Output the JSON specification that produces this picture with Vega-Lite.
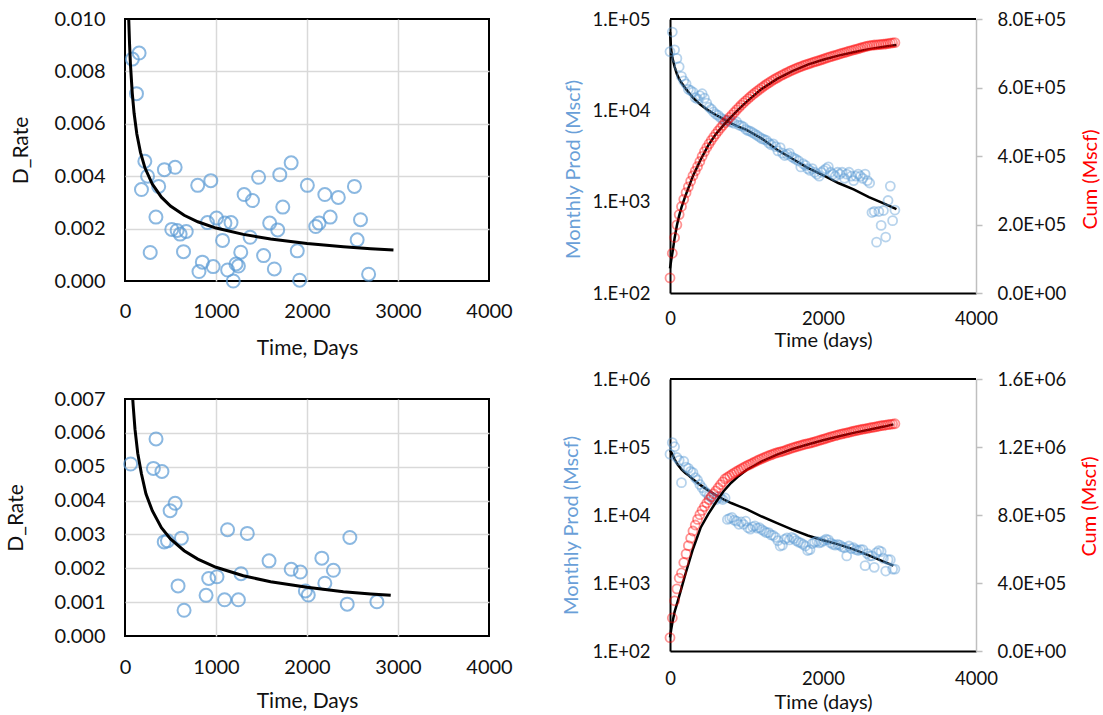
{
"$schema": "https://vega.github.io/schema/vega-lite/v6.json",
"background": "white",
"padding": {"left": 4, "top": 8, "right": 0, "bottom": 0},
"bounds": "flush",
"spacing": 545,
"config": {"font": "Lato", "view": {"stroke": null}, "axis": {"labelFont": "Lato", "titleFont": "Lato", "labelColor": "#111111", "titleColor": "#111111", "titleFontWeight": "normal", "labelFlush": false, "labelOverlap": false, "tickCount": 20}},
"datasets": {
"tl": [{"t":81,"d":0.00847},{"t":155,"d":0.0087},{"t":126,"d":0.00715},{"t":218,"d":0.00457},{"t":248,"d":0.004},{"t":181,"d":0.00349},{"t":277,"d":0.00109},{"t":340,"d":0.00244},{"t":370,"d":0.00361},{"t":433,"d":0.00425},{"t":551,"d":0.00434},{"t":514,"d":0.00197},{"t":573,"d":0.00193},{"t":606,"d":0.00179},{"t":673,"d":0.00189},{"t":643,"d":0.00112},{"t":799,"d":0.00365},{"t":943,"d":0.00383},{"t":906,"d":0.00223},{"t":1006,"d":0.0024},{"t":1098,"d":0.00221},{"t":1165,"d":0.00223},{"t":1072,"d":0.00155},{"t":813,"d":0.00036},{"t":850,"d":0.00072},{"t":969,"d":0.00055},{"t":1128,"d":0.00042},{"t":1190,"d":0.0},{"t":1220,"d":0.00065},{"t":1246,"d":0.00057},{"t":1272,"d":0.0011},{"t":1309,"d":0.0033},{"t":1401,"d":0.00307},{"t":1375,"d":0.00167},{"t":1468,"d":0.00396},{"t":1523,"d":0.00097},{"t":1590,"d":0.00221},{"t":1678,"d":0.00195},{"t":1701,"d":0.00406},{"t":1734,"d":0.00282},{"t":1641,"d":0.00046},{"t":1826,"d":0.00451},{"t":1893,"d":0.00115},{"t":1919,"d":0.00003},{"t":2004,"d":0.00365},{"t":2096,"d":0.00208},{"t":2133,"d":0.00221},{"t":2196,"d":0.0033},{"t":2255,"d":0.00244},{"t":2344,"d":0.00319},{"t":2521,"d":0.00361},{"t":2588,"d":0.00234},{"t":2551,"d":0.00157},{"t":2677,"d":0.00026}],
"tlf": [{"t":40,"d":0.0101},{"t":50,"d":0.00905},{"t":60,"d":0.00826},{"t":80,"d":0.00716},{"t":100,"d":0.0064},{"t":130,"d":0.00561},{"t":170,"d":0.00491},{"t":220,"d":0.00431},{"t":300,"d":0.0037},{"t":400,"d":0.0032},{"t":500,"d":0.00286},{"t":650,"d":0.00251},{"t":800,"d":0.00226},{"t":1000,"d":0.00202},{"t":1300,"d":0.00178},{"t":1600,"d":0.0016},{"t":2000,"d":0.00143},{"t":2400,"d":0.00131},{"t":2700,"d":0.00123},{"t":2950,"d":0.00118}],
"bl": [{"t":62,"d":0.00508},{"t":341,"d":0.00582},{"t":312,"d":0.00495},{"t":406,"d":0.00486},{"t":551,"d":0.00392},{"t":496,"d":0.0037},{"t":431,"d":0.00278},{"t":467,"d":0.00281},{"t":620,"d":0.00289},{"t":583,"d":0.00148},{"t":649,"d":0.00076},{"t":891,"d":0.0012},{"t":920,"d":0.0017},{"t":1011,"d":0.00175},{"t":1094,"d":0.00107},{"t":1127,"d":0.00314},{"t":1246,"d":0.00107},{"t":1275,"d":0.00184},{"t":1344,"d":0.00303},{"t":1583,"d":0.00222},{"t":1826,"d":0.00197},{"t":1927,"d":0.00189},{"t":1982,"d":0.00133},{"t":2014,"d":0.00121},{"t":2163,"d":0.0023},{"t":2196,"d":0.00156},{"t":2290,"d":0.00194},{"t":2471,"d":0.00291},{"t":2442,"d":0.00094},{"t":2768,"d":0.00101}],
"blf": [{"t":80,"d":0.0072},{"t":90,"d":0.0068},{"t":110,"d":0.0061},{"t":140,"d":0.0054},{"t":180,"d":0.0048},{"t":230,"d":0.0042},{"t":300,"d":0.0037},{"t":400,"d":0.0032},{"t":500,"d":0.00287},{"t":650,"d":0.00252},{"t":800,"d":0.00227},{"t":1000,"d":0.00203},{"t":1300,"d":0.00178},{"t":1600,"d":0.0016},{"t":2000,"d":0.00144},{"t":2400,"d":0.00131},{"t":2700,"d":0.00124},{"t":2920,"d":0.0012}],
"tr": [{"t":0,"q":44000,"c":44000},{"t":30,"q":72000,"c":116000},{"t":60,"q":46000,"c":162000},{"t":90,"q":37000,"c":199000},{"t":120,"q":30000,"c":229000},{"t":150,"q":23500,"c":252500},{"t":180,"q":21000,"c":273500},{"t":210,"q":19500,"c":293000},{"t":240,"q":17000,"c":310000},{"t":270,"q":16500,"c":326500},{"t":300,"q":15800,"c":342300},{"t":330,"q":13800,"c":356100},{"t":360,"q":13300,"c":369400},{"t":390,"q":14500,"c":383900},{"t":420,"q":15200,"c":399100},{"t":450,"q":13600,"c":412700},{"t":480,"q":12000,"c":424700},{"t":510,"q":10800,"c":435500},{"t":540,"q":10300,"c":445800},{"t":570,"q":9600,"c":455400},{"t":600,"q":9100,"c":464500},{"t":630,"q":8800,"c":473300},{"t":660,"q":8300,"c":481600},{"t":690,"q":8000,"c":489600},{"t":720,"q":7800,"c":497400},{"t":750,"q":7700,"c":505100},{"t":780,"q":7500,"c":512600},{"t":810,"q":7400,"c":520000},{"t":840,"q":7200,"c":527200},{"t":870,"q":7500,"c":534700},{"t":900,"q":6900,"c":541600},{"t":930,"q":6800,"c":548400},{"t":960,"q":6600,"c":555000},{"t":990,"q":6200,"c":561200},{"t":1020,"q":6000,"c":567200},{"t":1050,"q":5900,"c":573100},{"t":1080,"q":5700,"c":578800},{"t":1110,"q":5500,"c":584300},{"t":1140,"q":5300,"c":589600},{"t":1170,"q":5100,"c":594700},{"t":1200,"q":4900,"c":599600},{"t":1230,"q":4800,"c":604400},{"t":1260,"q":4700,"c":609100},{"t":1290,"q":4400,"c":613500},{"t":1320,"q":4200,"c":617700},{"t":1350,"q":4300,"c":622000},{"t":1380,"q":4000,"c":626000},{"t":1410,"q":3600,"c":629600},{"t":1440,"q":3900,"c":633500},{"t":1470,"q":3400,"c":636900},{"t":1500,"q":3200,"c":640100},{"t":1530,"q":3300,"c":643400},{"t":1560,"q":3400,"c":646800},{"t":1590,"q":3100,"c":649900},{"t":1620,"q":3000,"c":652900},{"t":1650,"q":2900,"c":655800},{"t":1680,"q":2800,"c":658600},{"t":1710,"q":2400,"c":661000},{"t":1740,"q":2600,"c":663600},{"t":1770,"q":2500,"c":666100},{"t":1800,"q":2300,"c":668400},{"t":1830,"q":2200,"c":670600},{"t":1860,"q":2300,"c":672900},{"t":1890,"q":2100,"c":675000},{"t":1920,"q":2000,"c":677000},{"t":1950,"q":1900,"c":678900},{"t":1980,"q":2100,"c":681000},{"t":2010,"q":2200,"c":683200},{"t":2040,"q":2300,"c":685500},{"t":2070,"q":2400,"c":687900},{"t":2100,"q":2100,"c":690000},{"t":2130,"q":2000,"c":692000},{"t":2160,"q":1900,"c":693900},{"t":2190,"q":2100,"c":696000},{"t":2220,"q":2000,"c":698000},{"t":2250,"q":2100,"c":700100},{"t":2280,"q":1800,"c":701900},{"t":2310,"q":2000,"c":703900},{"t":2340,"q":2100,"c":706000},{"t":2370,"q":1900,"c":707900},{"t":2400,"q":1700,"c":709600},{"t":2430,"q":1900,"c":711500},{"t":2460,"q":2000,"c":713500},{"t":2490,"q":1900,"c":715400},{"t":2520,"q":1800,"c":717200},{"t":2550,"q":2000,"c":719200},{"t":2580,"q":1700,"c":720900},{"t":2610,"q":1600,"c":722500},{"t":2640,"q":760,"c":723260},{"t":2670,"q":780,"c":724040},{"t":2700,"q":360,"c":724400},{"t":2730,"q":780,"c":725180},{"t":2760,"q":550,"c":725730},{"t":2790,"q":800,"c":726530},{"t":2820,"q":410,"c":726940},{"t":2850,"q":1030,"c":727970},{"t":2880,"q":1480,"c":729450},{"t":2910,"q":620,"c":730070},{"t":2940,"q":810,"c":730880}],
"trf": [{"t":0,"q":72000,"c":72000},{"t":15,"q":46000,"c":95000},{"t":30,"q":38000,"c":115000},{"t":60,"q":30000,"c":160000},{"t":90,"q":25000,"c":197000},{"t":120,"q":22000,"c":226000},{"t":150,"q":20000,"c":250000},{"t":200,"q":17500,"c":283000},{"t":250,"q":15500,"c":312000},{"t":300,"q":13800,"c":342000},{"t":400,"q":11500,"c":389000},{"t":500,"q":10000,"c":431000},{"t":600,"q":8900,"c":464000},{"t":700,"q":8000,"c":490000},{"t":800,"q":7200,"c":514000},{"t":900,"q":6600,"c":537000},{"t":1000,"q":6100,"c":558000},{"t":1200,"q":4900,"c":596000},{"t":1400,"q":3700,"c":625000},{"t":1600,"q":2950,"c":648000},{"t":1800,"q":2350,"c":667000},{"t":2000,"q":1950,"c":681000},{"t":2200,"q":1600,"c":693000},{"t":2400,"q":1360,"c":703000},{"t":2600,"q":1120,"c":712000},{"t":2800,"q":950,"c":719000},{"t":2960,"q":830,"c":724000}],
"br": [{"t":0,"q":78500,"c":78500},{"t":30,"q":115900,"c":194400},{"t":60,"q":101000,"c":295400},{"t":90,"q":70100,"c":365500},{"t":120,"q":63600,"c":429100},{"t":150,"q":29900,"c":459000},{"t":180,"q":61700,"c":520700},{"t":210,"q":50500,"c":571200},{"t":240,"q":48600,"c":619800},{"t":270,"q":43900,"c":663700},{"t":300,"q":42100,"c":705800},{"t":330,"q":35500,"c":741300},{"t":360,"q":32700,"c":774000},{"t":390,"q":28100,"c":802100},{"t":420,"q":25200,"c":827300},{"t":450,"q":22400,"c":849700},{"t":480,"q":21000,"c":870700},{"t":510,"q":19200,"c":889900},{"t":540,"q":18200,"c":908100},{"t":570,"q":17000,"c":925100},{"t":600,"q":16800,"c":941900},{"t":630,"q":18400,"c":960300},{"t":660,"q":17800,"c":978100},{"t":690,"q":16900,"c":995000},{"t":720,"q":17800,"c":1012800},{"t":750,"q":8600,"c":1021400},{"t":780,"q":8900,"c":1030300},{"t":810,"q":9200,"c":1039500},{"t":840,"q":8400,"c":1047900},{"t":870,"q":8100,"c":1056000},{"t":900,"q":7300,"c":1063300},{"t":930,"q":7900,"c":1071200},{"t":960,"q":7300,"c":1078500},{"t":990,"q":8100,"c":1086600},{"t":1020,"q":6500,"c":1093100},{"t":1050,"q":6200,"c":1099300},{"t":1080,"q":6700,"c":1106000},{"t":1110,"q":6900,"c":1112900},{"t":1140,"q":6400,"c":1119300},{"t":1170,"q":6500,"c":1125800},{"t":1200,"q":6100,"c":1131900},{"t":1230,"q":5800,"c":1137700},{"t":1260,"q":5500,"c":1143200},{"t":1290,"q":5500,"c":1148700},{"t":1320,"q":5100,"c":1153800},{"t":1350,"q":5000,"c":1158800},{"t":1380,"q":4700,"c":1163500},{"t":1410,"q":4200,"c":1167700},{"t":1440,"q":3500,"c":1171200},{"t":1470,"q":3600,"c":1174800},{"t":1500,"q":4400,"c":1179200},{"t":1530,"q":4600,"c":1183800},{"t":1560,"q":4300,"c":1188100},{"t":1590,"q":4700,"c":1192800},{"t":1620,"q":4500,"c":1197300},{"t":1650,"q":4200,"c":1201500},{"t":1680,"q":4000,"c":1205500},{"t":1710,"q":3900,"c":1209400},{"t":1740,"q":3700,"c":1213100},{"t":1770,"q":3500,"c":1216600},{"t":1800,"q":3000,"c":1219600},{"t":1830,"q":3100,"c":1222700},{"t":1860,"q":3800,"c":1226500},{"t":1890,"q":4000,"c":1230500},{"t":1920,"q":4100,"c":1234600},{"t":1950,"q":3900,"c":1238500},{"t":1980,"q":4000,"c":1242500},{"t":2010,"q":4200,"c":1246700},{"t":2040,"q":4400,"c":1251100},{"t":2070,"q":4300,"c":1255400},{"t":2100,"q":3900,"c":1259300},{"t":2130,"q":3700,"c":1263000},{"t":2160,"q":3600,"c":1266600},{"t":2190,"q":3700,"c":1270300},{"t":2220,"q":3600,"c":1273900},{"t":2250,"q":3400,"c":1277300},{"t":2280,"q":3300,"c":1280600},{"t":2310,"q":2500,"c":1283100},{"t":2340,"q":3500,"c":1286600},{"t":2370,"q":3200,"c":1289800},{"t":2400,"q":3300,"c":1293100},{"t":2430,"q":3100,"c":1296200},{"t":2460,"q":3000,"c":1299200},{"t":2490,"q":3100,"c":1302300},{"t":2520,"q":3100,"c":1305400},{"t":2550,"q":1800,"c":1307200},{"t":2580,"q":2700,"c":1309900},{"t":2610,"q":2500,"c":1312400},{"t":2640,"q":2500,"c":1314900},{"t":2670,"q":1700,"c":1316600},{"t":2700,"q":2800,"c":1319400},{"t":2730,"q":3000,"c":1322400},{"t":2760,"q":2900,"c":1325300},{"t":2790,"q":2300,"c":1327600},{"t":2820,"q":1500,"c":1329100},{"t":2850,"q":2200,"c":1331300},{"t":2880,"q":2200,"c":1333500},{"t":2910,"q":1600,"c":1335100},{"t":2940,"q":1600,"c":1336700}],
"brf": [{"t":0,"q":90000,"c":80000},{"t":15,"q":84000,"c":125000},{"t":30,"q":78000,"c":165000},{"t":60,"q":66000,"c":230000},{"t":100,"q":55000,"c":290000},{"t":150,"q":47000,"c":370000},{"t":200,"q":41500,"c":450000},{"t":250,"q":37800,"c":525000},{"t":300,"q":33500,"c":600000},{"t":400,"q":27500,"c":725000},{"t":500,"q":23000,"c":805000},{"t":600,"q":19500,"c":875000},{"t":700,"q":17000,"c":940000},{"t":800,"q":15000,"c":990000},{"t":900,"q":13500,"c":1030000},{"t":1000,"q":12200,"c":1065000},{"t":1200,"q":9500,"c":1115000},{"t":1400,"q":7600,"c":1155000},{"t":1600,"q":6100,"c":1188000},{"t":1800,"q":5000,"c":1215000},{"t":2000,"q":4250,"c":1240000},{"t":2200,"q":3700,"c":1262000},{"t":2400,"q":3130,"c":1283000},{"t":2600,"q":2550,"c":1302000},{"t":2800,"q":2050,"c":1320000},{"t":2920,"q":1800,"c":1333000}],
"one": [{}]
},
"hconcat": [
{"vconcat": [
{"width": 364, "height": 262, "view": {"stroke": "black", "strokeWidth": 2},
 "layer": [
  {"data": {"name": "tl"}, "mark": {"type": "point", "shape": "circle", "filled": false, "size": 169, "strokeWidth": 2, "color": "#5B9BD5"},
   "encoding": {
    "x": {"field": "t", "type": "quantitative", "scale": {"domain": [0, 4000], "nice": false}, "axis": {"values": [0, 1000, 2000, 3000, 4000], "tickCount": 20, "format": "d", "title": "Time, Days", "labelFontSize": 20, "titleFontSize": 21, "labelPadding": 20, "titlePadding": 16, "labelOverlap": false, "domain": false, "ticks": false, "tickSize": 0, "grid": true, "gridWidth": 1.5, "gridColor": {"condition": {"test": "datum.value == 0 || datum.value == 4000", "value": "transparent"}, "value": "#D9D9D9"}}},
    "y": {"field": "d", "type": "quantitative", "scale": {"domain": [0, 0.01], "nice": false}, "axis": {"values": [0, 0.002, 0.004, 0.006, 0.008, 0.01], "tickCount": 20, "format": ".3f", "title": "D_Rate", "labelFontSize": 20, "titleFontSize": 21, "labelPadding": 20, "titlePadding": 22, "labelOverlap": false, "domain": false, "ticks": false, "tickSize": 0, "grid": true, "gridWidth": 1.5, "gridColor": {"condition": {"test": "datum.value < 0.0001 || datum.value > 0.0099", "value": "transparent"}, "value": "#D9D9D9"}}}
   }},
  {"data": {"name": "tlf"}, "mark": {"type": "line", "color": "black", "strokeWidth": 3, "clip": true},
   "encoding": {"x": {"field": "t", "type": "quantitative"}, "y": {"field": "d", "type": "quantitative"}}}
 ]},
{"width": 364, "height": 237, "view": {"stroke": "black", "strokeWidth": 2},
 "layer": [
  {"data": {"name": "bl"}, "mark": {"type": "point", "shape": "circle", "filled": false, "size": 169, "strokeWidth": 2, "color": "#5B9BD5"},
   "encoding": {
    "x": {"field": "t", "type": "quantitative", "scale": {"domain": [0, 4000], "nice": false}, "axis": {"values": [0, 1000, 2000, 3000, 4000], "tickCount": 20, "format": "d", "title": "Time, Days", "labelFontSize": 20, "titleFontSize": 21, "labelPadding": 21, "titlePadding": 13, "labelOverlap": false, "domain": false, "ticks": false, "tickSize": 0, "grid": true, "gridWidth": 1.5, "gridColor": {"condition": {"test": "datum.value == 0 || datum.value == 4000", "value": "transparent"}, "value": "#D9D9D9"}}},
    "y": {"field": "d", "type": "quantitative", "scale": {"domain": [0, 0.007], "nice": false}, "axis": {"values": [0, 0.001, 0.002, 0.003, 0.004, 0.005, 0.006, 0.007], "tickCount": 20, "format": ".3f", "title": "D_Rate", "labelFontSize": 20, "titleFontSize": 21, "labelPadding": 20, "titlePadding": 27, "labelOverlap": false, "domain": false, "ticks": false, "tickSize": 0, "grid": true, "gridWidth": 1.5, "gridColor": {"condition": {"test": "datum.value < 0.0001 || datum.value > 0.0069", "value": "transparent"}, "value": "#D9D9D9"}}}
   }},
  {"data": {"name": "blf"}, "mark": {"type": "line", "color": "black", "strokeWidth": 3, "clip": true},
   "encoding": {"x": {"field": "t", "type": "quantitative"}, "y": {"field": "d", "type": "quantitative"}}}
 ]}
], "spacing": 118, "bounds": "flush"},
{"vconcat": [
{"width": 306, "height": 274, "view": {"stroke": null},
 "layer": [
  {"layer": [
    {"data": {"name": "trf"}, "mark": {"type": "line", "color": "black", "strokeWidth": 2.5},
     "encoding": {"x": {"field": "t", "type": "quantitative", "scale": {"domain": [0, 4000], "nice": false}, "axis": {"values": [0, 2000, 4000], "tickCount": 20, "format": "d", "title": "Time (days)", "labelFontSize": 18.5, "titleFontSize": 20, "labelPadding": 16, "titlePadding": 3, "labelOverlap": false, "domain": true, "domainColor": "black", "domainWidth": 2, "ticks": false, "tickSize": 0, "grid": false}},
      "y": {"field": "q", "type": "quantitative", "scale": {"type": "log", "domain": [100, 100000], "nice": false}, "axis": {"values": [100, 1000, 10000, 100000], "tickCount": 20, "labelExpr": "'1.E+0' + format(log(datum.value)/LN10, '.0f')", "title": "Monthly Prod (Mscf)", "titleColor": "#6A9FD8", "labelFontSize": 18.5, "titleFontSize": 20, "labelPadding": 20, "titlePadding": 9, "titleY": 150, "labelOverlap": false, "domain": true, "domainColor": "black", "domainWidth": 2, "ticks": false, "tickSize": 0, "grid": false}}}},
    {"data": {"name": "tr"}, "mark": {"type": "point", "shape": "circle", "filled": false, "size": 81, "strokeWidth": 1.8, "color": "#5B9BD5", "strokeOpacity": 0.62},
     "encoding": {"x": {"field": "t", "type": "quantitative"}, "y": {"field": "q", "type": "quantitative"}}},
    {"data": {"name": "one"}, "mark": {"type": "rule", "color": "black", "strokeWidth": 2},
     "encoding": {"y": {"datum": 100000, "type": "quantitative"}}}
  ]},
  {"layer": [
    {"data": {"name": "trf"}, "mark": {"type": "line", "color": "black", "strokeWidth": 2.5},
     "encoding": {"x": {"field": "t", "type": "quantitative"}, "y": {"field": "c", "type": "quantitative", "scale": {"domain": [0, 800000], "nice": false}, "axis": {"orient": "right", "values": [0, 200000, 400000, 600000, 800000], "tickCount": 20, "labelExpr": "datum.value == 0 ? '0.0E+00' : format(datum.value / pow(10, floor(log(datum.value)/LN10 + 1e-9)), '.1f') + 'E+0' + floor(log(datum.value)/LN10 + 1e-9)", "title": "Cum (Mscf)", "titleColor": "#FF0000", "titleAngle": 270, "titleBaseline": "top", "titleY": 160, "labelFontSize": 18.5, "titleFontSize": 20, "labelPadding": 15, "titlePadding": 15, "labelOverlap": false, "domain": true, "domainColor": "#BFBFBF", "domainWidth": 1.5, "ticks": true, "tickColor": "#BFBFBF", "tickSize": 6, "tickWidth": 1.5, "grid": false}}}},
    {"data": {"name": "tr"}, "mark": {"type": "point", "shape": "circle", "filled": false, "size": 81, "strokeWidth": 1.8, "color": "#FF0000", "strokeOpacity": 0.6},
     "encoding": {"x": {"field": "t", "type": "quantitative"}, "y": {"field": "c", "type": "quantitative"}}}
  ]}
 ],
 "resolve": {"scale": {"y": "independent"}}},
{"width": 306, "height": 272, "view": {"stroke": null},
 "layer": [
  {"layer": [
    {"data": {"name": "brf"}, "mark": {"type": "line", "color": "black", "strokeWidth": 2.5},
     "encoding": {"x": {"field": "t", "type": "quantitative", "scale": {"domain": [0, 4000], "nice": false}, "axis": {"values": [0, 2000, 4000], "tickCount": 20, "format": "d", "title": "Time (days)", "labelFontSize": 18.5, "titleFontSize": 20, "labelPadding": 18, "titlePadding": 5, "labelOverlap": false, "domain": true, "domainColor": "black", "domainWidth": 2, "ticks": false, "tickSize": 0, "grid": false}},
      "y": {"field": "q", "type": "quantitative", "scale": {"type": "log", "domain": [100, 1000000], "nice": false}, "axis": {"values": [100, 1000, 10000, 100000, 1000000], "tickCount": 20, "labelExpr": "'1.E+0' + format(log(datum.value)/LN10, '.0f')", "title": "Monthly Prod (Mscf)", "titleColor": "#6A9FD8", "labelFontSize": 18.5, "titleFontSize": 20, "labelPadding": 20, "titlePadding": 11, "titleY": 146, "labelOverlap": false, "domain": true, "domainColor": "black", "domainWidth": 2, "ticks": false, "tickSize": 0, "grid": false}}}},
    {"data": {"name": "br"}, "mark": {"type": "point", "shape": "circle", "filled": false, "size": 81, "strokeWidth": 1.8, "color": "#5B9BD5", "strokeOpacity": 0.62},
     "encoding": {"x": {"field": "t", "type": "quantitative"}, "y": {"field": "q", "type": "quantitative"}}},
    {"data": {"name": "one"}, "mark": {"type": "rule", "color": "black", "strokeWidth": 2},
     "encoding": {"y": {"datum": 1000000, "type": "quantitative"}}}
  ]},
  {"layer": [
    {"data": {"name": "brf"}, "mark": {"type": "line", "color": "black", "strokeWidth": 2.5},
     "encoding": {"x": {"field": "t", "type": "quantitative"}, "y": {"field": "c", "type": "quantitative", "scale": {"domain": [0, 1600000], "nice": false}, "axis": {"orient": "right", "values": [0, 400000, 800000, 1200000, 1600000], "tickCount": 20, "labelExpr": "datum.value == 0 ? '0.0E+00' : format(datum.value / pow(10, floor(log(datum.value)/LN10 + 1e-9)), '.1f') + 'E+0' + floor(log(datum.value)/LN10 + 1e-9)", "title": "Cum (Mscf)", "titleColor": "#FF0000", "titleAngle": 270, "titleBaseline": "top", "titleY": 127, "labelFontSize": 18.5, "titleFontSize": 20, "labelPadding": 15, "titlePadding": 14, "labelOverlap": false, "domain": true, "domainColor": "#BFBFBF", "domainWidth": 1.5, "ticks": true, "tickColor": "#BFBFBF", "tickSize": 6, "tickWidth": 1.5, "grid": false}}}},
    {"data": {"name": "br"}, "mark": {"type": "point", "shape": "circle", "filled": false, "size": 81, "strokeWidth": 1.8, "color": "#FF0000", "strokeOpacity": 0.6},
     "encoding": {"x": {"field": "t", "type": "quantitative"}, "y": {"field": "c", "type": "quantitative"}}}
  ]}
 ],
 "resolve": {"scale": {"y": "independent"}}}
], "spacing": 86, "bounds": "flush"}
]
}
